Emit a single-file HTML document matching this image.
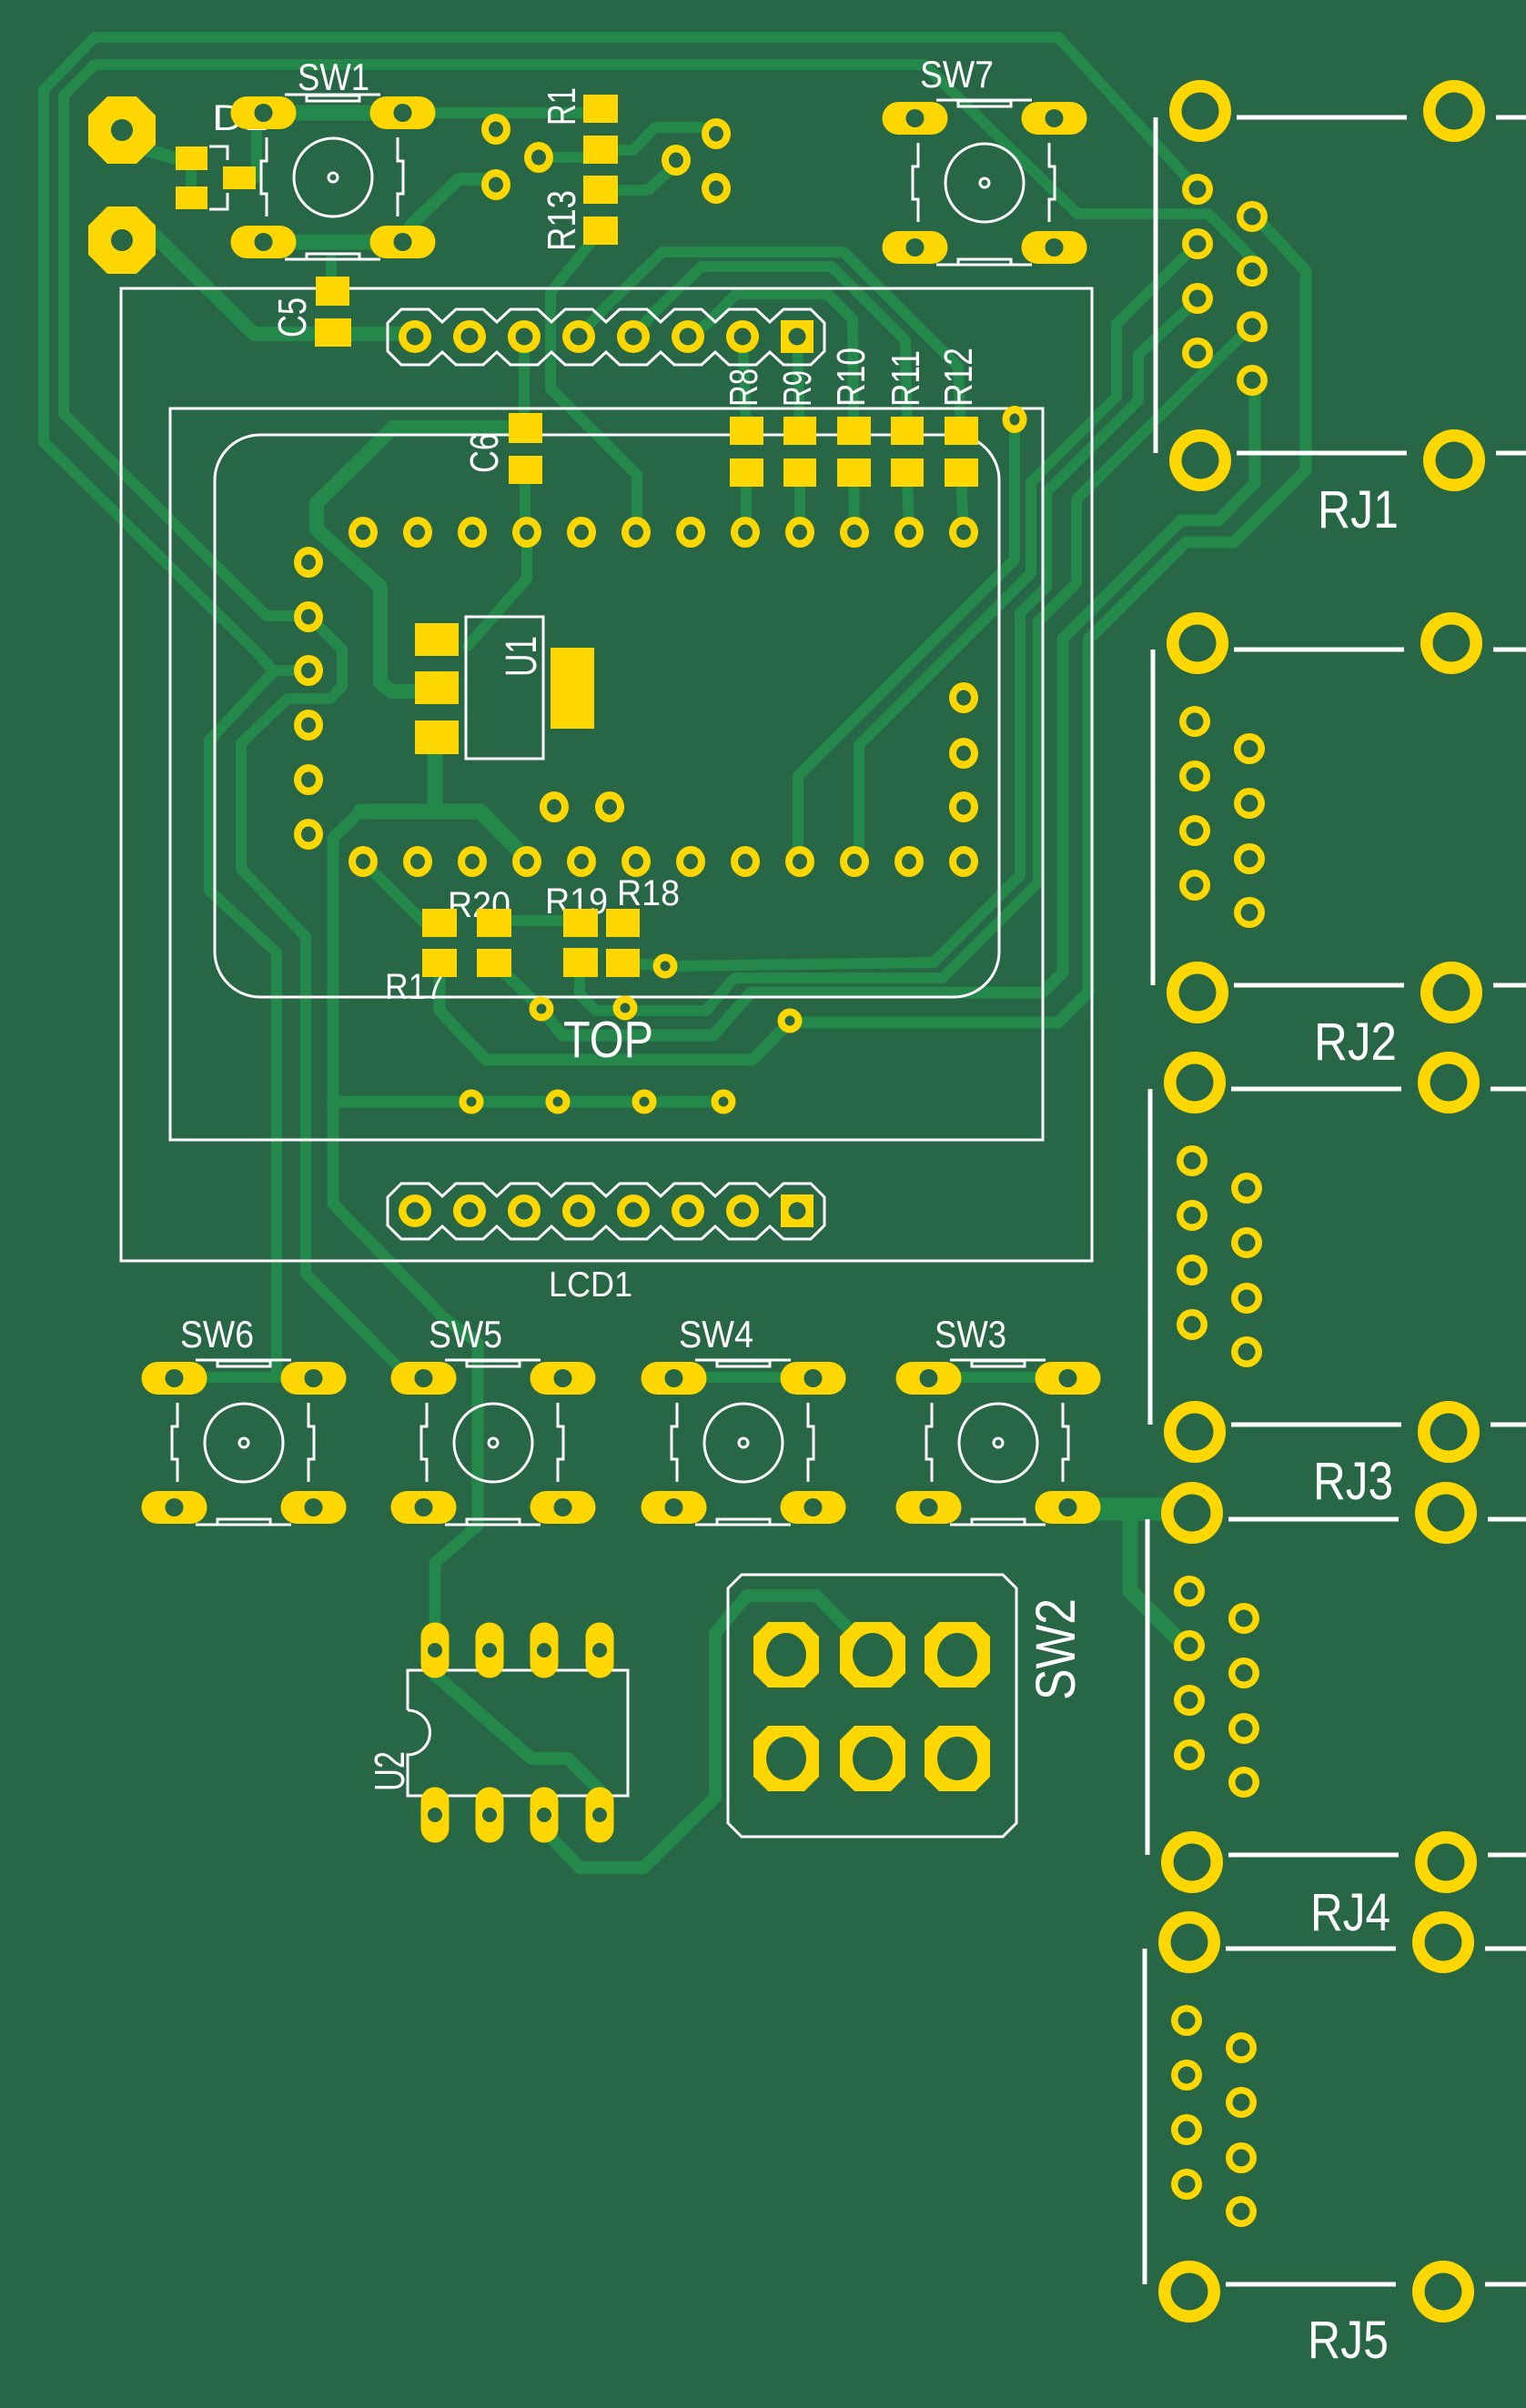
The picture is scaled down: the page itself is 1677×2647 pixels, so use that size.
<!DOCTYPE html>
<html><head><meta charset="utf-8"><style>
html,body{margin:0;padding:0;background:#276746;}
svg{display:block;}
text{font-family:"Liberation Sans",Arial,sans-serif;fill:#fff;}
</style></head><body>
<svg xmlns="http://www.w3.org/2000/svg" xmlns:xlink="http://www.w3.org/1999/xlink" width="1677" height="2647" viewBox="0 0 1677 2647">
<defs>
 <g id="mp"><ellipse rx="16" ry="17" fill="#FFD700"/><ellipse rx="8" ry="8.5" fill="#276746"/></g>
 <g id="hp"><circle r="18" fill="#FFD700"/><circle r="9.5" fill="#276746"/></g>
 <g id="via"><circle r="13.5" fill="#FFD700"/><circle r="5.5" fill="#276746"/></g>
 <g id="swp"><rect x="-36" y="-18" width="72" height="36" rx="18" fill="#FFD700"/><circle r="10" fill="#276746"/></g>
 <g id="u2p"><rect x="-15.5" y="-30.5" width="31" height="61" rx="15.5" fill="#FFD700"/><circle r="8" fill="#276746"/></g>
 <g id="rjb"><circle r="34" fill="#FFD700"/><circle r="20.5" fill="#276746"/></g>
 <g id="rjs"><circle r="17" fill="#FFD700"/><circle r="9.5" fill="#276746"/></g>
 <g id="oct2"><polygon points="-20,-36 20,-36 36,-20 36,20 20,36 -20,36 -36,20 -36,-20" fill="#FFD700"/><ellipse rx="22" ry="24" fill="#276746"/></g>
 <g id="octm"><polygon points="-16,-37 16,-37 37,-16 37,16 16,37 -16,37 -37,16 -37,-16" fill="#FFD700"/><circle r="12" fill="#276746"/></g>
 <g id="sws" fill="none" stroke="#fff" stroke-width="3">
  <path d="M-53,-91H52M-53,90H52M-73,-44V-18H-79V18H-73V43M71,-44V-18H77V18H71V43"/>
  <rect x="-29" y="-90" width="58" height="6"/>
  <rect x="-29" y="84" width="58" height="6"/>
  <circle r="43"/><circle r="5"/>
 </g>
 <g id="swpads">
  <use xlink:href="#swp" x="-76.5" y="-71"/><use xlink:href="#swp" x="76.5" y="-71"/>
  <use xlink:href="#swp" x="-76.5" y="71"/><use xlink:href="#swp" x="76.5" y="71"/>
 </g>
 <g id="rjsilk" fill="none" stroke="#fff" stroke-width="5">
  <path d="M-49,7V376M40,7H227M325,7H420M40,376H227M325,376H420"/>
 </g>
 <g id="rjpads">
  <use xlink:href="#rjb" x="0" y="0"/><use xlink:href="#rjb" x="279" y="0"/>
  <use xlink:href="#rjb" x="0" y="384"/><use xlink:href="#rjb" x="279" y="384"/>
  <use xlink:href="#rjs" x="-3" y="86"/><use xlink:href="#rjs" x="-3" y="146"/>
  <use xlink:href="#rjs" x="-3" y="206"/><use xlink:href="#rjs" x="-3" y="266"/>
  <use xlink:href="#rjs" x="57" y="116"/><use xlink:href="#rjs" x="57" y="176"/>
  <use xlink:href="#rjs" x="57" y="237"/><use xlink:href="#rjs" x="57" y="296"/>
 </g>
 <polygon id="hdr" fill="none" stroke="#fff" stroke-width="3" points="426,355 441,340 471,340 486,354 501,340 531,340 546,354 561,340 591,340 606,354 621,340 651,340 666,354 681,340 711,340 726,354 741,340 771,340 786,354 801,340 831,340 846,354 861,340 891,340 906,355 906,386 891,401 861,401 846,387 831,401 801,401 786,387 771,401 741,401 726,387 711,401 681,401 666,387 651,401 621,401 606,387 591,401 561,401 546,387 531,401 501,401 486,387 471,401 441,401 426,386"/>
 <g id="hdrpins">
  <use xlink:href="#hp" x="456" y="0"/><use xlink:href="#hp" x="516" y="0"/><use xlink:href="#hp" x="576" y="0"/><use xlink:href="#hp" x="636" y="0"/>
  <use xlink:href="#hp" x="696" y="0"/><use xlink:href="#hp" x="756" y="0"/><use xlink:href="#hp" x="816" y="0"/>
  <rect x="858" y="-18" width="36" height="36" fill="#FFD700"/><circle cx="876" cy="0" r="9.5" fill="#276746"/>
 </g>
</defs>

<rect width="1677" height="2647" fill="#276746"/>

<!-- TRACES -->
<g fill="none" stroke="#238849" stroke-linejoin="round" stroke-linecap="round" stroke-width="12">
 <path d="M1316,208L1163,41H104L48,99V486L283,718L300,737H339"/>
 <path d="M1375,298L1379,287L1328,235H1184L1016,71H104L70,105V455L293,677H339"/>
 <path d="M300,739L230,814V979L304,1047V1514"/>
 <path d="M191,1514H344"/>
 <path d="M339,678L353,691L376,714V754L363,768H316L265,817V955L336,1030V1400L439,1504H466"/>
 <path d="M577,470H432L348,553V582L418,645V750L430,760H456" stroke-width="16"/>
 <path d="M478,810V892M396,892H528L568,933L579,947" stroke-width="17"/>
 <path d="M396,892L366,921V1323L487,1448L525,1476V1677L478,1718V1814" stroke-width="13"/>
 <path d="M399,947L466,1014H483"/>
 <path d="M543,1012H638"/>
 <path d="M366,1211H795" stroke-width="13"/>
 <path d="M684,1058L731,1062L1026,1058L1121,962V674L1150,645V541L1251,440V390L1316,329"/>
 <path d="M637,1058V1093L655,1111H776L807,1075H1036L1141,970V683L1183,641V549L1304,428L1375,359"/>
 <path d="M543,1058L595,1109L618,1138H784L825,1091H1146L1168,1069V702L1298,572H1339L1379,531V418" stroke-width="13"/>
 <path d="M483,1058V1111L534,1165H827L867,1124H1163L1196,1091V703L1303,596H1356L1435,517V298L1390,249L1375,238" stroke-width="13"/>
 <path d="M1115,462V615L877,853V947"/>
 <path d="M944,947V819L1133,630V530L1227,436V356L1316,268"/>
 <path d="M636,370L659,344L728,277H927L1053,403L1056,473"/>
 <path d="M696,370L718,344L771,293H914L995,374L997,473"/>
 <path d="M756,370L777,356L809,323H909L937,351L938,473"/>
 <path d="M816,370L820,473M876,370L879,473"/>
 <path d="M820,520V585M879,520V585M938,520L939,585M997,520L999,585M1056,520L1059,585"/>
 <path d="M660,253L605,322V427L700,522V585"/>
 <path d="M576,370V470M577,517V585"/>
 <path d="M579,585V636L514,710"/>
 <path d="M289,124H442" stroke-width="17"/>
 <path d="M289,266H442" stroke-width="17"/>
 <path d="M282,124V195H262"/>
 <path d="M442,124H660"/>
 <path d="M364,285V306"/>
 <path d="M450,249L504,197H545" stroke-width="14"/>
 <path d="M134,143L161,165L193,174" stroke-width="14"/>
 <path d="M210,174V217"/>
 <path d="M134,264L171,260L279,367H456" stroke-width="16"/>
 <path d="M592,173H660M660,165H696L720,140H771L787,147M660,209H712L742,182"/>
 <path d="M740,1514H894M1021,1514H1174"/>
 <path d="M1174,1659H1310" stroke-width="25"/>
 <path d="M1242,1665V1749L1298,1805L1307,1810" stroke-width="17"/>
 <path d="M478,1814V1841L584,1933H624L659,1968V1995" stroke-width="14"/>
 <path d="M598,1995L605,2019L637,2053H707L786,1976V1795L821,1754H897L932,1790L959,1819" stroke-width="14"/>
</g>

<!-- SILKSCREEN -->
<g fill="none" stroke="#fff" stroke-width="3">
 <rect x="133" y="317" width="1067" height="1069"/>
 <rect x="187" y="449" width="959" height="804"/>
 <rect x="236" y="478" width="862" height="618" rx="50" ry="50"/>
 <rect x="512" y="678" width="85" height="156"/>
 <path d="M448,1880V1836H690V1974H448V1929A24.5,24.5 0 0 0 448,1880"/>
 <path d="M815,1731H1102L1117,1746V2004L1102,2019H815L800,2004V1746Z"/>
 <path d="M230,161H250V176M230,230H250V212"/>
</g>
<use xlink:href="#hdr"/>
<use xlink:href="#hdr" y="961"/>
<use xlink:href="#sws" x="366" y="195"/>
<use xlink:href="#sws" x="1082" y="201"/>
<use xlink:href="#sws" x="268" y="1586"/>
<use xlink:href="#sws" x="542" y="1586"/>
<use xlink:href="#sws" x="817" y="1586"/>
<use xlink:href="#sws" x="1097" y="1586"/>
<use xlink:href="#rjsilk" x="1319" y="122"/>
<use xlink:href="#rjsilk" x="1316" y="707"/>
<use xlink:href="#rjsilk" x="1313" y="1190"/>
<use xlink:href="#rjsilk" x="1310" y="1663"/>
<use xlink:href="#rjsilk" x="1307" y="2135"/>

<!-- LABELS -->
<g font-size="42">
 <text x="327" y="99" textLength="79" lengthAdjust="spacingAndGlyphs">SW1</text>
 <text x="1011" y="96" textLength="81" lengthAdjust="spacingAndGlyphs">SW7</text>
 <text x="198" y="1481" textLength="81" lengthAdjust="spacingAndGlyphs">SW6</text>
 <text x="471" y="1481" textLength="81" lengthAdjust="spacingAndGlyphs">SW5</text>
 <text x="746" y="1481" textLength="82" lengthAdjust="spacingAndGlyphs">SW4</text>
 <text x="1027" y="1481" textLength="79" lengthAdjust="spacingAndGlyphs">SW3</text>
</g>
<text x="233" y="143" font-size="40" textLength="62" lengthAdjust="spacingAndGlyphs">D1</text>
<text x="603" y="1425" font-size="39" textLength="92" lengthAdjust="spacingAndGlyphs">LCD1</text>
<g font-size="40">
 <text x="492" y="1008" textLength="69" lengthAdjust="spacingAndGlyphs">R20</text>
 <text x="599" y="1004" textLength="69" lengthAdjust="spacingAndGlyphs">R19</text>
 <text x="678" y="995" textLength="69" lengthAdjust="spacingAndGlyphs">R18</text>
 <text x="423" y="1098" textLength="65" lengthAdjust="spacingAndGlyphs">R17</text>
</g>
<text x="619" y="1162" font-size="57" textLength="99" lengthAdjust="spacingAndGlyphs">TOP</text>
<g font-size="58">
 <text x="1448" y="580" textLength="89" lengthAdjust="spacingAndGlyphs">RJ1</text>
 <text x="1444" y="1165" textLength="91" lengthAdjust="spacingAndGlyphs">RJ2</text>
 <text x="1443" y="1648" textLength="88" lengthAdjust="spacingAndGlyphs">RJ3</text>
 <text x="1440" y="2122" textLength="88" lengthAdjust="spacingAndGlyphs">RJ4</text>
 <text x="1437" y="2592" textLength="89" lengthAdjust="spacingAndGlyphs">RJ5</text>
</g>
<g font-size="44">
 <text transform="translate(632,138) rotate(-90)" textLength="42" lengthAdjust="spacingAndGlyphs">R1</text>
 <text transform="translate(632,276) rotate(-90)" textLength="67" lengthAdjust="spacingAndGlyphs">R13</text>
 <text transform="translate(336,371) rotate(-90)" textLength="44" lengthAdjust="spacingAndGlyphs">C5</text>
 <text transform="translate(547,520) rotate(-90)" textLength="44" lengthAdjust="spacingAndGlyphs">C6</text>
 <text transform="translate(832,447) rotate(-90)" textLength="42" lengthAdjust="spacingAndGlyphs">R8</text>
 <text transform="translate(891,447) rotate(-90)" textLength="40" lengthAdjust="spacingAndGlyphs">R9</text>
 <text transform="translate(950,447) rotate(-90)" textLength="65" lengthAdjust="spacingAndGlyphs">R10</text>
 <text transform="translate(1010,447) rotate(-90)" textLength="62" lengthAdjust="spacingAndGlyphs">R11</text>
 <text transform="translate(1068,447) rotate(-90)" textLength="65" lengthAdjust="spacingAndGlyphs">R12</text>
</g>
<text transform="translate(589,744) rotate(-90)" font-size="48" textLength="45" lengthAdjust="spacingAndGlyphs">U1</text>
<text transform="translate(444,1969) rotate(-90)" font-size="46" textLength="44" lengthAdjust="spacingAndGlyphs">U2</text>
<text transform="translate(1181,1869) rotate(-90)" font-size="61" textLength="112" lengthAdjust="spacingAndGlyphs">SW2</text>

<!-- PADS -->
<g fill="#FFD700">
 <use xlink:href="#octm" x="134" y="143"/>
 <use xlink:href="#octm" x="134" y="264"/>
 <rect x="193" y="161" width="35" height="26"/>
 <rect x="193" y="205" width="35" height="25"/>
 <rect x="245" y="183" width="36" height="25"/>
 <use xlink:href="#swpads" x="366" y="195"/>
 <use xlink:href="#swpads" x="1082" y="201"/>
 <use xlink:href="#swpads" x="268" y="1586"/>
 <use xlink:href="#swpads" x="542" y="1586"/>
 <use xlink:href="#swpads" x="817" y="1586"/>
 <use xlink:href="#swpads" x="1097" y="1586"/>
 <rect x="347" y="304" width="37" height="32"/>
 <rect x="346" y="350" width="40" height="31"/>
 <rect x="641" y="104" width="38" height="31"/>
 <rect x="641" y="149" width="38" height="31"/>
 <rect x="641" y="193" width="38" height="31"/>
 <rect x="641" y="238" width="38" height="31"/>
 <use xlink:href="#mp" x="545" y="142"/><use xlink:href="#mp" x="592" y="173"/><use xlink:href="#mp" x="545" y="203"/>
 <use xlink:href="#mp" x="787" y="147"/><use xlink:href="#mp" x="743" y="176"/><use xlink:href="#mp" x="787" y="207"/>
 <use xlink:href="#hdrpins" y="370"/>
 <use xlink:href="#hdrpins" y="1331"/>
 <rect x="559" y="454" width="37" height="33"/>
 <rect x="559" y="501" width="37" height="31"/>
 <rect x="802" y="458" width="37" height="31"/><rect x="861" y="458" width="36" height="31"/><rect x="920" y="458" width="37" height="31"/><rect x="979" y="458" width="36" height="31"/><rect x="1038" y="458" width="37" height="31"/>
 <rect x="802" y="504" width="37" height="31"/><rect x="861" y="504" width="36" height="31"/><rect x="920" y="504" width="37" height="31"/><rect x="979" y="504" width="36" height="31"/><rect x="1038" y="504" width="37" height="31"/>
 <!-- module pins top -->
 <use xlink:href="#mp" x="399" y="585"/><use xlink:href="#mp" x="459" y="585"/><use xlink:href="#mp" x="519" y="585"/><use xlink:href="#mp" x="579" y="585"/>
 <use xlink:href="#mp" x="639" y="585"/><use xlink:href="#mp" x="699" y="585"/><use xlink:href="#mp" x="759" y="585"/><use xlink:href="#mp" x="819" y="585"/>
 <use xlink:href="#mp" x="879" y="585"/><use xlink:href="#mp" x="939" y="585"/><use xlink:href="#mp" x="999" y="585"/><use xlink:href="#mp" x="1059" y="585"/>
 <!-- module pins bottom -->
 <use xlink:href="#mp" x="399" y="947"/><use xlink:href="#mp" x="459" y="947"/><use xlink:href="#mp" x="519" y="947"/><use xlink:href="#mp" x="579" y="947"/>
 <use xlink:href="#mp" x="639" y="947"/><use xlink:href="#mp" x="699" y="947"/><use xlink:href="#mp" x="759" y="947"/><use xlink:href="#mp" x="819" y="947"/>
 <use xlink:href="#mp" x="879" y="947"/><use xlink:href="#mp" x="939" y="947"/><use xlink:href="#mp" x="999" y="947"/><use xlink:href="#mp" x="1059" y="947"/>
 <!-- left col -->
 <use xlink:href="#mp" x="339" y="618"/><use xlink:href="#mp" x="339" y="678"/><use xlink:href="#mp" x="339" y="737"/>
 <use xlink:href="#mp" x="339" y="797"/><use xlink:href="#mp" x="339" y="857"/><use xlink:href="#mp" x="339" y="917"/>
 <!-- right col -->
 <use xlink:href="#mp" x="1059" y="767"/><use xlink:href="#mp" x="1059" y="828"/><use xlink:href="#mp" x="1059" y="887"/>
 <use xlink:href="#mp" x="609" y="887"/><use xlink:href="#mp" x="670" y="887"/>
 <ellipse cx="1115" cy="461" rx="13.5" ry="15"/><ellipse cx="1115" cy="461" rx="5.5" ry="6.5" fill="#276746"/>
 <!-- U1 -->
 <rect x="456" y="685" width="48" height="36"/>
 <rect x="456" y="738" width="48" height="36"/>
 <rect x="456" y="792" width="48" height="37"/>
 <rect x="605" y="712" width="48" height="89"/>
 <!-- R17-R20 -->
 <rect x="464" y="999" width="38" height="31"/><rect x="524" y="999" width="38" height="31"/><rect x="619" y="999" width="38" height="31"/><rect x="666" y="999" width="37" height="31"/>
 <rect x="464" y="1043" width="38" height="31"/><rect x="524" y="1043" width="38" height="31"/><rect x="619" y="1042" width="38" height="32"/><rect x="666" y="1043" width="37" height="31"/>
 <!-- vias -->
 <use xlink:href="#via" x="731" y="1062"/><use xlink:href="#via" x="595" y="1109"/><use xlink:href="#via" x="687" y="1108"/>
 <use xlink:href="#via" x="868" y="1122"/>
 <use xlink:href="#via" x="518" y="1211"/><use xlink:href="#via" x="613" y="1211"/><use xlink:href="#via" x="708" y="1211"/><use xlink:href="#via" x="795" y="1211"/>
 <!-- U2 -->
 <use xlink:href="#u2p" x="478" y="1814"/><use xlink:href="#u2p" x="538" y="1814"/><use xlink:href="#u2p" x="598" y="1814"/><use xlink:href="#u2p" x="659" y="1814"/>
 <use xlink:href="#u2p" x="478" y="1995"/><use xlink:href="#u2p" x="538" y="1995"/><use xlink:href="#u2p" x="598" y="1995"/><use xlink:href="#u2p" x="659" y="1995"/>
 <!-- SW2 -->
 <use xlink:href="#oct2" x="864" y="1819"/><use xlink:href="#oct2" x="959" y="1819"/><use xlink:href="#oct2" x="1052" y="1819"/>
 <use xlink:href="#oct2" x="864" y="1933"/><use xlink:href="#oct2" x="959" y="1933"/><use xlink:href="#oct2" x="1052" y="1933"/>
 <!-- RJ -->
 <use xlink:href="#rjpads" x="1319" y="122"/>
 <use xlink:href="#rjpads" x="1316" y="707"/>
 <use xlink:href="#rjpads" x="1313" y="1190"/>
 <use xlink:href="#rjpads" x="1310" y="1663"/>
 <use xlink:href="#rjpads" x="1307" y="2135"/>
</g>
</svg>
</body></html>
